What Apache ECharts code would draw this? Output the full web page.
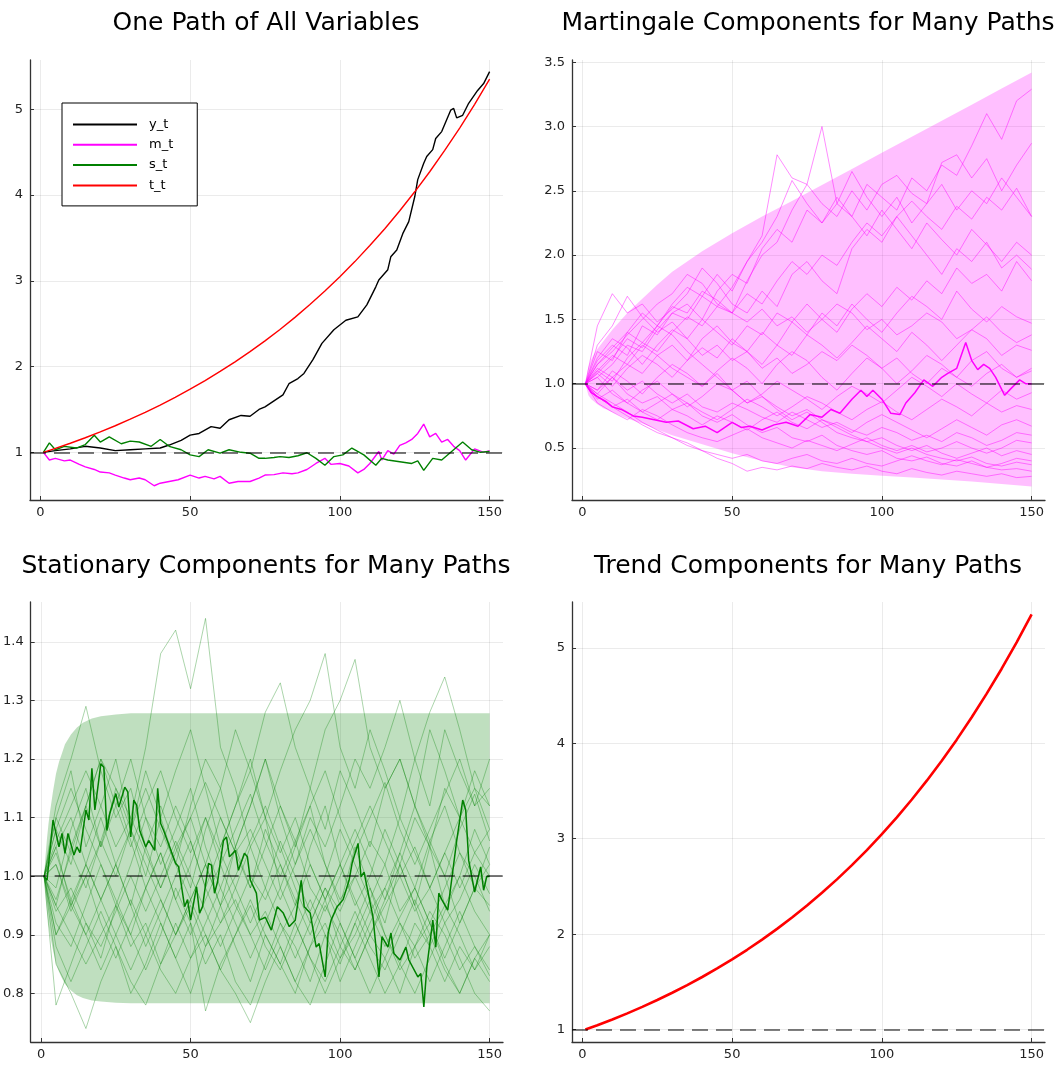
<!DOCTYPE html>
<html><head><meta charset="utf-8">
<script src="https://cdn.jsdelivr.net/npm/echarts@6/dist/echarts.min.js"></script>
<style>html,body{margin:0;padding:0;background:#fff}#c{width:1062px;height:1066px}</style>
</head><body><div id="c"></div>
<script>
// ---------- DATA ----------
const xTicks = [0, 50, 100, 150];
const yTicksTL = [1, 2, 3, 4, 5];
const yTicksTR = [0.5, 1.0, 1.5, 2.0, 2.5, 3.0, 3.5];
const yTicksBL = [0.8, 0.9, 1.0, 1.1, 1.2, 1.3, 1.4];
const yTicksBR = [1, 2, 3, 4, 5];
const refLevel = 1;
const titles = ['One Path of All Variables', 'Martingale Components for Many Paths', 'Stationary Components for Many Paths', 'Trend Components for Many Paths'];
const legendNames = ['y_t', 'm_t', 's_t', 't_t'];

// top-left: one path of each variable, [t, value]
const y_t = [[1,1.00],[5,1.02],[10,1.04],[15,1.07],[20,1.05],[25,1.02],[30,1.03],[35,1.04],[40,1.05],[43,1.085],[47,1.14],[50,1.20],[53,1.22],[57,1.30],[60,1.28],[63,1.38],[67,1.43],[70,1.42],[73,1.50],[75,1.53],[78,1.60],[81,1.67],[83,1.80],[86,1.86],[88,1.92],[91,2.08],[94,2.27],[98,2.43],[102,2.54],[106,2.58],[109,2.72],[112,2.93],[113,3.01],[116,3.13],[117,3.28],[119,3.36],[121,3.55],[123,3.69],[125,3.98],[126,4.18],[128,4.37],[129,4.45],[131,4.53],[132,4.66],[134,4.74],[137,4.99],[138,5.01],[139,4.90],[141,4.93],[143,5.07],[146,5.22],[148,5.30],[150,5.44]];
const m_t = [[1,1.00],[3,0.91],[5,0.93],[8,0.90],[10,0.91],[13,0.86],[15,0.83],[18,0.80],[20,0.77],[23,0.76],[25,0.735],[28,0.70],[30,0.68],[33,0.70],[35,0.68],[38,0.61],[40,0.64],[43,0.66],[46,0.68],[50,0.735],[53,0.70],[55,0.72],[58,0.69],[60,0.72],[63,0.64],[66,0.66],[70,0.66],[73,0.70],[75,0.735],[78,0.74],[81,0.76],[84,0.75],[86,0.76],[89,0.80],[92,0.87],[95,0.93],[97,0.86],[100,0.87],[103,0.84],[106,0.76],[108,0.80],[110,0.87],[113,1.01],[114,0.91],[116,1.02],[118,0.98],[120,1.08],[122,1.11],[124,1.15],[126,1.22],[128,1.33],[130,1.18],[132,1.22],[134,1.12],[136,1.15],[138,1.07],[140,1.02],[142,0.91],[145,1.04],[148,1.00],[150,1.02]];
const s_t = [[1,1.00],[3,1.11],[5,1.03],[8,1.07],[12,1.05],[15,1.09],[18,1.20],[20,1.12],[23,1.18],[27,1.10],[30,1.13],[33,1.12],[37,1.07],[40,1.15],[43,1.07],[47,1.03],[50,0.97],[53,0.95],[56,1.03],[60,0.99],[63,1.03],[67,1.00],[70,0.99],[73,0.93],[75,0.93],[78,0.94],[80,0.95],[83,0.94],[86,0.96],[89,0.995],[92,0.93],[95,0.85],[98,0.95],[101,0.97],[104,1.05],[108,0.97],[112,0.85],[114,0.93],[116,0.91],[120,0.89],[124,0.87],[126,0.90],[128,0.79],[131,0.93],[134,0.91],[138,1.03],[141,1.12],[144,1.03],[147,1.00],[150,1.01]];
const t_t = [[1,1.00],[5,1.046],[10,1.106],[15,1.17],[20,1.238],[25,1.31],[30,1.386],[35,1.466],[40,1.551],[45,1.641],[50,1.736],[55,1.836],[60,1.943],[65,2.055],[70,2.174],[75,2.30],[80,2.433],[85,2.574],[90,2.723],[95,2.881],[100,3.048],[105,3.224],[110,3.411],[115,3.608],[120,3.817],[125,4.038],[130,4.272],[135,4.52],[140,4.781],[145,5.058],[150,5.351]];

// time grid for the many-path panels
const tGrid = [1,5,10,15,20,25,30,35,40,45,50,55,60,65,70,75,80,85,90,95,100,105,110,115,120,125,130,135,140,145,150];

// martingale band
const bandMT = [1,2,3,4,5,7,10,15,20,25,30,40,50,60,70,80,90,100,110,120,130,140,150];
const bandMUpper = [1.00,1.13,1.19,1.235,1.27,1.33,1.42,1.55,1.66,1.77,1.87,2.03,2.17,2.30,2.42,2.545,2.67,2.795,2.92,3.045,3.17,3.295,3.42];
const bandMLower = [1.00,0.91,0.88,0.86,0.84,0.81,0.78,0.73,0.69,0.645,0.60,0.53,0.46,0.40,0.35,0.32,0.30,0.285,0.27,0.255,0.24,0.22,0.20];

// martingale paths (values on tGrid)
const mPaths = [
[1.00,1.18,1.30,1.22,1.45,1.38,1.55,1.62,1.50,1.72,1.85,1.78,2.05,2.20,2.10,2.35,2.25,2.40,2.30,2.55,2.45,2.35,2.60,2.50,2.70,2.62,2.85,3.10,2.90,3.20,3.29],
[1.00,1.05,1.15,1.30,1.25,1.42,1.55,1.50,1.68,1.60,1.75,1.95,2.15,2.78,2.60,2.55,2.40,2.30,2.50,2.35,2.55,2.62,2.48,2.40,2.72,2.78,2.60,2.75,2.50,2.70,2.87],
[1.00,1.10,1.02,1.20,1.32,1.25,1.40,1.52,1.45,1.60,1.55,1.80,2.00,2.10,2.35,2.55,3.00,2.40,2.65,2.45,2.30,2.45,2.25,2.40,2.55,2.35,2.50,2.40,2.60,2.45,2.30],
[1.00,1.45,1.70,1.55,1.62,1.48,1.58,1.70,1.90,1.78,1.62,1.55,1.72,1.60,1.85,1.95,1.80,1.70,2.05,2.20,2.10,2.30,2.15,2.00,1.85,2.05,1.95,2.10,1.90,2.00,1.89],
[1.00,1.20,1.35,1.28,1.15,1.30,1.42,1.35,1.50,1.40,1.30,1.45,1.38,1.55,1.48,1.62,1.50,1.40,1.58,1.70,1.60,1.75,1.65,1.80,1.70,1.90,1.78,1.85,1.72,1.95,1.80],
[1.00,0.92,1.05,1.15,1.08,1.22,1.30,1.18,1.35,1.45,1.32,1.25,1.40,1.30,1.48,1.38,1.55,1.45,1.62,1.50,1.40,1.55,1.68,1.60,1.50,1.72,1.58,1.48,1.60,1.52,1.47],
[1.00,1.08,0.98,1.12,1.22,1.15,1.05,1.18,1.28,1.20,1.35,1.25,1.15,1.30,1.22,1.38,1.30,1.20,1.32,1.45,1.35,1.25,1.40,1.30,1.18,1.30,1.42,1.35,1.22,1.30,1.26],
[1.00,0.95,1.10,1.02,0.92,1.05,1.15,1.08,0.98,1.10,1.20,1.12,1.00,1.15,1.25,1.18,1.05,0.95,1.08,1.20,1.12,1.00,1.10,1.22,1.15,1.05,1.18,1.25,1.12,1.05,1.10],
[1.00,1.05,0.92,0.85,0.95,1.02,0.92,0.82,0.90,1.00,0.95,0.85,0.92,1.02,0.95,0.88,0.80,0.90,0.98,0.92,0.85,0.95,1.05,0.98,0.90,1.00,0.92,0.85,0.95,0.88,0.93],
[1.00,0.90,0.82,0.88,0.78,0.85,0.92,0.85,0.78,0.72,0.80,0.88,0.82,0.75,0.82,0.90,0.85,0.78,0.72,0.80,0.86,0.78,0.72,0.80,0.88,0.82,0.75,0.85,0.78,0.83,0.80],
[1.00,0.88,0.95,0.85,0.78,0.72,0.80,0.75,0.68,0.75,0.70,0.64,0.72,0.78,0.70,0.65,0.72,0.68,0.62,0.70,0.76,0.70,0.64,0.58,0.65,0.72,0.66,0.60,0.68,0.72,0.67],
[1.00,1.12,1.05,0.95,1.02,0.92,0.85,0.92,0.82,0.78,0.85,0.80,0.74,0.70,0.78,0.72,0.66,0.70,0.64,0.60,0.66,0.62,0.56,0.60,0.55,0.62,0.58,0.52,0.56,0.62,0.60],
[1.00,0.85,0.78,0.72,0.80,0.75,0.68,0.62,0.58,0.55,0.60,0.65,0.58,0.54,0.50,0.56,0.52,0.48,0.53,0.58,0.52,0.48,0.52,0.47,0.50,0.55,0.50,0.46,0.50,0.56,0.54],
[1.00,1.15,1.28,1.40,1.32,1.45,1.38,1.25,1.15,1.05,0.95,1.02,0.90,0.82,0.75,0.80,0.72,0.66,0.60,0.55,0.58,0.52,0.48,0.52,0.46,0.42,0.46,0.50,0.44,0.48,0.45],
[1.00,0.90,0.82,0.75,0.68,0.62,0.58,0.52,0.48,0.45,0.42,0.45,0.40,0.38,0.42,0.45,0.40,0.38,0.42,0.38,0.36,0.40,0.44,0.40,0.37,0.41,0.38,0.35,0.38,0.42,0.40],
[1.00,0.92,0.85,0.78,0.70,0.64,0.58,0.54,0.48,0.42,0.38,0.32,0.35,0.33,0.36,0.34,0.38,0.35,0.33,0.36,0.32,0.30,0.34,0.31,0.29,0.32,0.30,0.28,0.30,0.27,0.28],
[1.00,1.10,1.22,1.15,1.30,1.22,1.12,1.05,0.98,1.08,0.95,0.85,0.90,0.80,0.72,0.78,0.70,0.62,0.58,0.55,0.50,0.46,0.50,0.45,0.42,0.40,0.43,0.38,0.36,0.39,0.37],
[1.00,0.95,1.05,0.92,0.85,0.90,0.80,0.85,0.75,0.70,0.76,0.68,0.62,0.66,0.58,0.55,0.60,0.52,0.48,0.45,0.48,0.42,0.40,0.43,0.38,0.36,0.40,0.35,0.33,0.34,0.32],
[1.00,1.08,1.20,1.35,1.28,1.45,1.60,1.55,1.72,1.65,1.55,1.70,1.62,1.80,1.95,1.85,2.00,1.92,2.10,2.25,2.15,2.30,2.42,2.30,2.20,2.38,2.28,2.45,2.35,2.52,2.30],
[1.00,1.25,1.18,1.40,1.55,1.45,1.62,1.75,1.68,1.85,1.72,1.95,2.10,2.30,2.58,2.40,2.25,2.45,2.30,2.15,2.35,2.20,2.05,2.25,2.12,2.00,2.20,2.08,1.95,2.10,2.00],
[1.00,1.30,1.45,1.68,1.52,1.40,1.48,1.35,1.22,1.30,1.18,1.25,1.12,1.20,1.08,1.15,1.25,1.18,1.30,1.22,1.12,1.20,1.08,1.00,1.12,1.05,0.98,1.08,1.15,1.05,1.12],
[1.00,1.15,1.25,1.38,1.50,1.62,1.70,1.85,1.78,1.62,1.55,1.48,1.58,1.45,1.52,1.40,1.50,1.62,1.55,1.42,1.50,1.38,1.45,1.55,1.48,1.35,1.42,1.52,1.40,1.32,1.38]
];
// highlighted martingale path, [t, value]
const mMain = [[1,1.00],[3,0.93],[5,0.90],[8,0.86],[10,0.82],[13,0.80],[17,0.75],[20,0.74],[24,0.72],[28,0.70],[32,0.71],[37,0.65],[41,0.67],[45,0.62],[50,0.70],[53,0.66],[56,0.67],[60,0.64],[64,0.68],[68,0.70],[72,0.67],[76,0.76],[80,0.74],[83,0.80],[86,0.77],[90,0.88],[93,0.95],[95,0.90],[97,0.95],[100,0.88],[103,0.77],[106,0.76],[108,0.85],[111,0.93],[114,1.03],[117,0.98],[120,1.05],[122,1.08],[125,1.12],[128,1.32],[130,1.18],[132,1.11],[134,1.15],[136,1.12],[138,1.05],[141,0.91],[143,0.96],[146,1.03],[148,1.00],[150,1.00]];

// stationary band
const bandST = [1,1.5,2,2.5,3,4,5,6,7,8,10,12,14,17,20,25,30,150];
const bandSUpper = [1.00,1.035,1.065,1.09,1.11,1.145,1.175,1.195,1.21,1.225,1.242,1.254,1.262,1.269,1.273,1.276,1.278,1.278];
const bandSLower = [1.00,0.966,0.939,0.917,0.90,0.873,0.851,0.837,0.826,0.816,0.805,0.797,0.792,0.788,0.786,0.784,0.783,0.783];

// stationary paths (values on tGrid)
const sPaths = [
[1.00,1.08,1.02,1.12,1.05,1.15,1.10,1.22,1.38,1.42,1.32,1.44,1.22,1.15,1.05,1.10,0.98,1.05,1.12,1.02,0.95,1.05,0.98,0.92,1.02,1.10,1.05,0.95,1.00,1.08,1.02],
[1.00,0.95,1.05,1.12,1.20,1.15,1.08,1.18,1.10,1.02,1.12,1.20,1.15,1.25,1.18,1.28,1.33,1.22,1.15,1.08,1.18,1.12,1.05,1.15,1.20,1.12,1.05,1.15,1.10,1.18,1.12],
[1.00,1.10,1.18,1.05,1.12,1.20,1.08,1.00,1.10,1.18,1.25,1.15,1.05,1.12,1.20,1.10,1.18,1.25,1.30,1.38,1.22,1.15,1.25,1.18,1.10,1.20,1.12,1.25,1.18,1.12,1.20],
[1.00,1.05,0.95,1.02,1.10,1.02,0.95,1.05,1.12,1.05,0.98,1.08,1.15,1.05,1.12,1.20,1.12,1.05,1.15,1.25,1.30,1.37,1.22,1.15,1.20,1.12,1.25,1.18,1.10,1.15,1.12],
[1.00,0.98,1.08,1.15,1.05,1.12,1.20,1.10,1.02,1.08,1.15,1.05,0.98,1.05,1.12,1.20,1.10,1.02,1.10,1.05,1.12,1.20,1.15,1.22,1.30,1.20,1.28,1.34,1.25,1.15,1.08],
[1.00,1.12,1.20,1.29,1.18,1.10,1.15,1.05,0.98,1.05,1.10,1.02,0.95,1.05,0.98,1.08,1.02,0.95,1.05,1.12,1.02,0.95,1.00,1.08,1.02,0.95,1.05,1.00,0.92,0.98,1.05],
[1.00,0.85,0.80,0.74,0.82,0.88,0.80,0.85,0.92,0.86,0.80,0.88,0.95,0.88,0.82,0.90,0.85,0.80,0.88,0.95,0.90,0.84,0.90,0.86,0.80,0.88,0.92,0.85,0.80,0.86,0.82],
[1.00,0.78,0.85,0.92,0.86,0.95,0.90,0.84,0.90,0.98,0.92,0.85,0.90,0.82,0.78,0.85,0.92,0.88,0.82,0.90,0.85,0.92,0.98,0.90,0.85,0.92,0.88,0.82,0.88,0.84,0.88],
[1.00,0.92,0.88,0.95,1.02,0.96,0.90,0.98,0.92,0.86,0.92,0.77,0.85,0.90,0.95,0.88,0.84,0.90,0.96,0.90,0.82,0.88,0.94,0.98,0.92,0.86,0.90,0.95,0.90,0.84,0.90],
[1.00,0.95,0.90,0.85,0.90,0.95,0.88,0.92,0.85,0.90,0.96,0.90,0.84,0.80,0.75,0.82,0.88,0.82,0.78,0.85,0.92,0.86,0.80,0.86,0.92,0.88,0.82,0.88,0.94,0.88,0.84],
[1.00,1.02,0.95,0.90,0.96,1.02,0.95,0.88,0.94,1.00,1.06,0.98,0.92,0.98,1.05,0.98,0.92,0.86,0.92,0.98,0.94,1.00,0.94,0.88,0.93,0.98,0.92,0.86,0.92,0.98,0.95],
[1.00,1.05,1.10,1.02,0.96,1.02,1.08,1.15,1.08,1.02,0.96,1.02,1.10,1.04,0.98,1.05,1.12,1.06,0.98,0.94,1.00,1.06,1.12,1.06,1.00,1.05,0.98,1.04,1.10,1.04,1.00],
[1.00,0.90,0.95,1.00,0.92,0.86,0.92,0.98,1.04,0.96,0.90,0.96,1.02,0.95,0.90,0.84,0.90,0.95,1.02,0.96,0.88,0.84,0.90,0.96,1.02,0.95,0.88,0.94,1.00,0.94,0.90],
[1.00,1.08,1.15,1.08,1.02,0.95,1.02,1.10,1.05,1.12,1.06,0.98,1.05,1.12,1.18,1.10,1.04,1.10,1.02,0.96,1.02,1.08,1.02,0.96,1.04,1.12,1.06,1.00,1.08,1.14,1.06],
[1.00,0.88,0.82,0.88,0.94,0.88,0.82,0.78,0.85,0.92,0.86,0.90,0.84,0.90,0.96,0.90,0.85,0.92,0.86,0.80,0.86,0.92,0.86,0.80,0.85,0.80,0.86,0.92,0.86,0.80,0.77],
[1.00,0.96,1.04,0.98,1.06,1.14,1.06,0.98,1.04,0.96,1.02,1.10,1.04,0.98,0.92,0.98,1.06,1.00,0.94,1.00,1.08,1.02,0.96,1.02,0.94,0.98,1.06,1.12,1.04,0.98,1.02],
[1.00,1.04,0.96,0.90,0.84,0.90,0.96,0.90,0.84,0.80,0.86,0.92,0.98,0.92,0.86,0.92,0.98,0.92,0.86,0.82,0.88,0.94,0.88,0.84,0.90,0.96,0.90,0.84,0.80,0.86,0.90],
[1.00,1.10,1.04,1.12,1.20,1.12,1.05,1.12,1.18,1.10,1.04,1.10,1.02,1.08,1.14,1.06,1.00,1.06,1.12,1.18,1.10,1.04,1.10,1.16,1.08,1.02,1.08,1.14,1.20,1.12,1.15],
[1.00,0.94,0.98,0.92,0.88,0.94,1.00,0.94,1.00,1.06,1.00,0.94,0.88,0.94,1.00,0.96,1.02,0.96,0.90,0.96,1.02,0.96,0.90,0.95,1.00,0.94,0.98,0.92,0.96,1.02,0.97],
[1.00,1.02,0.94,1.00,1.06,1.00,1.08,1.02,0.96,0.90,0.96,1.02,0.95,1.00,1.06,1.12,1.05,0.98,0.92,0.98,0.92,0.86,0.92,0.98,1.04,0.98,0.92,0.98,1.04,1.00,0.94],
[1.00,0.90,0.96,1.02,0.96,0.90,0.84,0.90,0.96,0.90,0.95,0.88,0.92,0.96,0.90,0.94,0.88,0.82,0.88,0.92,0.86,0.90,0.96,0.90,0.84,0.88,0.94,0.90,0.84,0.88,0.83],
[1.00,1.06,1.12,1.18,1.12,1.05,1.10,1.04,0.98,1.04,1.10,1.16,1.10,1.04,1.08,1.02,0.96,1.02,1.08,1.02,0.96,1.00,1.06,1.02,1.10,1.04,0.98,1.04,0.98,1.04,1.08]
];
// highlighted stationary path, [t, value]
const sMain = [[1,1.00],[2,0.993],[4,1.096],[6,1.05],[7,1.073],[8,1.039],[9,1.073],[11,1.036],[12,1.05],[13,1.04],[15,1.113],[16,1.096],[17,1.184],[18,1.113],[19,1.152],[20,1.192],[21,1.186],[22,1.078],[23,1.107],[25,1.141],[26,1.118],[28,1.152],[29,1.144],[30,1.067],[31,1.13],[32,1.121],[33,1.078],[35,1.05],[36,1.061],[38,1.044],[39,1.15],[40,1.09],[41,1.078],[43,1.05],[45,1.022],[46,1.016],[48,0.948],[49,0.96],[50,0.925],[52,0.982],[53,0.937],[54,0.948],[56,1.022],[57,1.019],[58,0.971],[59,0.99],[61,1.061],[62,1.067],[63,1.033],[65,1.044],[66,1.01],[68,1.039],[69,1.033],[70,0.993],[72,0.971],[73,0.925],[75,0.93],[77,0.908],[79,0.948],[81,0.937],[83,0.914],[85,0.925],[87,0.993],[88,0.948],[90,0.937],[92,0.879],[93,0.885],[95,0.828],[96,0.903],[97,0.925],[99,0.948],[101,0.96],[103,0.993],[104,1.022],[106,1.056],[107,0.999],[108,1.007],[111,0.93],[112,0.879],[113,0.828],[114,0.897],[116,0.879],[117,0.903],[118,0.868],[120,0.857],[122,0.879],[123,0.857],[126,0.828],[127,0.834],[128,0.777],[129,0.845],[131,0.925],[132,0.879],[133,0.971],[134,0.96],[136,0.942],[137,0.982],[139,1.061],[141,1.13],[142,1.113],[143,1.027],[145,0.973],[147,1.016],[148,0.976],[149,0.999],[150,1.00]];

// trend (all paths coincide)
const trend = t_t;

// ---------- CHART ----------
const FONT = 'DejaVu Sans';
const chart = echarts.init(document.getElementById('c'), null, {renderer: 'canvas'});
const onGrid = vals => vals.map((v, i) => [tGrid[i], v]);

const grids = [
  {left: 30, top: 60, width: 473, height: 440},
  {left: 572, top: 60, width: 473, height: 440},
  {left: 30, top: 602, width: 473, height: 440},
  {left: 572, top: 602, width: 473, height: 440}
];
function xAx(gi) {
  return {type: 'value', gridIndex: gi, min: -3.47, max: 154.47,
    axisLine: {onZero: false, lineStyle: {color: '#333', width: 1.3}},
    axisTick: {show: true, customValues: xTicks, inside: true, length: 4, lineStyle: {color: '#333'}},
    axisLabel: {customValues: xTicks, fontSize: 13, fontFamily: FONT, color: '#222', margin: 6},
    splitLine: {show: true, lineStyle: {color: 'rgba(0,0,0,0.08)', width: 1}}};
}
function yAx(gi, min, max, ticks, dec) {
  return {type: 'value', gridIndex: gi, min: min, max: max,
    axisLine: {show: true, onZero: false, lineStyle: {color: '#333', width: 1.3}},
    axisTick: {show: true, customValues: ticks, inside: true, length: 4, lineStyle: {color: '#333'}},
    axisLabel: {customValues: ticks, fontSize: 13, fontFamily: FONT, color: '#222', margin: 7,
      formatter: v => Number(v).toFixed(dec)},
    splitLine: {show: true, lineStyle: {color: 'rgba(0,0,0,0.08)', width: 1}}};
}
function dashRef(color, width) {
  return {silent: true, symbol: 'none', label: {show: false}, z: 10,
    lineStyle: {color: color, type: [16, 8], width: width},
    data: [{yAxis: refLevel}]};
}
function line(name, gi, data, color, width, extra) {
  return Object.assign({type: 'line', name: name, xAxisIndex: gi, yAxisIndex: gi, data: data,
    showSymbol: false, symbol: 'none', silent: true, animation: false,
    lineStyle: {color: color, width: width}, itemStyle: {color: color}}, extra || {});
}
// filled band between lower and upper edges, drawn through the axis scales
function band(gi, ts, up, lo, color) {
  return {type: 'custom', name: 'band' + gi, xAxisIndex: gi, yAxisIndex: gi, silent: true, z: 1,
    data: [[ts[0], up[0]]],
    renderItem: function (params, api) {
      const pts = [];
      for (let i = 0; i < ts.length; i++) pts.push(api.coord([ts[i], up[i]]));
      for (let i = ts.length - 1; i >= 0; i--) pts.push(api.coord([ts[i], lo[i]]));
      return {type: 'polygon', shape: {points: pts}, style: {fill: color}};
    }};
}

const series = [];
// panel 0
series.push(line('y_t', 0, y_t, '#000000', 1.4));
series.push(line('m_t', 0, m_t, '#ff00ff', 1.4));
series.push(line('s_t', 0, s_t, '#008000', 1.4));
series.push(line('t_t', 0, t_t, '#ff0000', 1.4, {markLine: dashRef('rgba(0,0,0,0.7)', 1.6)}));
// panel 1
series.push(band(1, bandMT, bandMUpper, bandMLower, 'rgba(255,0,255,0.25)'));
mPaths.forEach((p, i) => series.push(line('mp' + i, 1, onGrid(p), 'rgba(255,0,255,0.45)', 1)));
series.push(line('mMain', 1, mMain, '#ff00ff', 1.5, {markLine: dashRef('rgba(0,0,0,0.7)', 1.6)}));
// panel 2
series.push(band(2, bandST, bandSUpper, bandSLower, 'rgba(0,128,0,0.25)'));
sPaths.forEach((p, i) => series.push(line('sp' + i, 2, onGrid(p), 'rgba(0,128,0,0.33)', 1)));
series.push(line('sMain', 2, sMain, '#008000', 1.5, {markLine: dashRef('rgba(0,0,0,0.7)', 1.6)}));
// panel 3
series.push(line('trend', 3, trend, '#ff0000', 2.6, {markLine: dashRef('rgba(0,0,0,0.5)', 2)}));

const option = {
  animation: false,
  backgroundColor: '#ffffff',
  title: titles.map((t, i) => ({
    text: t, left: i % 2 === 0 ? 266 : 808, top: i < 2 ? 11 : 554, textAlign: 'center', padding: 0,
    textStyle: {fontFamily: FONT, fontWeight: 'normal', fontSize: 25, color: '#000'}
  })),
  legend: {
    data: legendNames, orient: 'vertical', left: 62, top: 103,
    icon: 'rect', itemWidth: 64, itemHeight: 2, itemGap: 5.3,
    borderColor: '#000', borderWidth: 1, backgroundColor: '#fff',
    padding: [14, 24, 13, 11],
    textStyle: {fontFamily: FONT, fontSize: 13, color: '#000', lineHeight: 15, padding: [0, 0, 0, 7]},
    selectedMode: false
  },
  grid: grids,
  xAxis: [xAx(0), xAx(1), xAx(2), xAx(3)],
  yAxis: [
    yAx(0, 0.444, 5.575, yTicksTL, 0),
    yAx(1, 0.096, 3.517, yTicksTR, 1),
    yAx(2, 0.717, 1.468, yTicksBL, 1),
    yAx(3, 0.87, 5.48, yTicksBR, 0)
  ],
  series: series
};
chart.setOption(option);
</script>
</body></html>
